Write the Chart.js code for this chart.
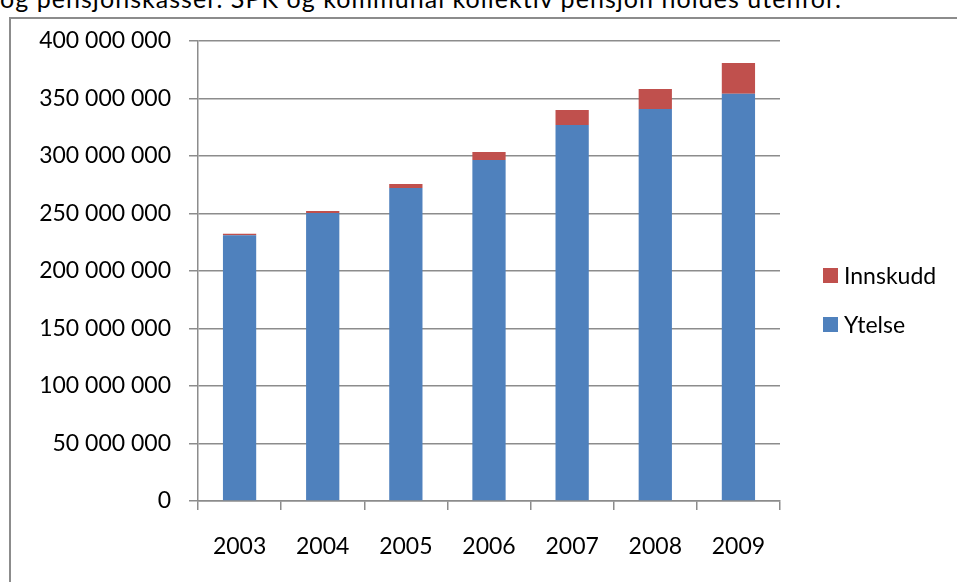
<!DOCTYPE html>
<html>
<head>
<meta charset="utf-8">
<script src="https://cdn.jsdelivr.net/npm/chart.js@4.4.1/dist/chart.umd.min.js"></script>
<style>
  html, body { margin: 0; padding: 0; background: #fff; width: 957px; height: 582px; overflow: hidden; }
  #lead { position: absolute; left: 0; top: -17px; font: 25px Lato, sans-serif; letter-spacing: 1.05px; white-space: nowrap; color: #000; }
  #frame { position: absolute; left: 9px; top: 17px; width: 1200px; height: 800px; border: 2px solid #8c8c8c; box-sizing: border-box; }
  #wrap { position: absolute; left: 0; top: 0; width: 957px; height: 582px; }
</style>
</head>
<body>
<div id="lead">og pensjonskasser. SPK og kommunal kollektiv pensjon holdes utenfor.</div>
<div id="frame"></div>
<div id="wrap"><canvas id="c" width="957" height="582"></canvas></div>
<script>
// Premium volume per year, split by scheme type (NOK)
const years = ['2003', '2004', '2005', '2006', '2007', '2008', '2009'];
const ytelse = [231.0e6, 250.4e6, 272.2e6, 296.5e6, 327.0e6, 340.9e6, 354.2e6];
const innskudd = [1.3e6, 1.8e6, 3.5e6, 7.0e6, 13.0e6, 17.4e6, 26.7e6];
const yTicks = [0, 50e6, 100e6, 150e6, 200e6, 250e6, 300e6, 350e6, 400e6];

const FONT = { family: 'Lato, sans-serif', size: 23 };
const AXIS = '#8c8c8c';

// "400 000 000" style grouping
const fmt = v => String(Math.round(v)).replace(/\B(?=(\d{3})+(?!\d))/g, ' ');

// Vertical legend to the right of the plot, top entry = top stack segment
const sideLegend = {
  id: 'sideLegend',
  afterDraw(chart) {
    const ctx = chart.ctx;
    const ds = chart.data.datasets;
    const x = 823, y0 = 275.5, step = 49, box = 15;
    ctx.save();
    ctx.font = `${FONT.size}px ${FONT.family}`;
    ctx.textBaseline = 'middle';
    ctx.textAlign = 'left';
    for (let i = ds.length - 1, k = 0; i >= 0; i--, k++) {
      const y = y0 + k * step;
      ctx.fillStyle = ds[i].backgroundColor;
      ctx.fillRect(x, y - box / 2, box, box);
      ctx.fillStyle = '#000';
      ctx.fillText(ds[i].label, x + box + 6, y + 1);
    }
    ctx.restore();
  }
};

new Chart(document.getElementById('c'), {
  type: 'bar',
  data: {
    labels: years,
    datasets: [
      { label: 'Ytelse', data: ytelse, backgroundColor: '#4F81BD' },
      { label: 'Innskudd', data: innskudd, backgroundColor: '#C0504D' }
    ]
  },
  options: {
    responsive: false,
    animation: false,
    events: [],
    barPercentage: 0.4,
    categoryPercentage: 1,
    layout: { padding: { left: 20, top: 41, right: 177, bottom: 21 } },
    plugins: { legend: { display: false }, tooltip: { enabled: false } },
    scales: {
      x: {
        stacked: true,
        offset: true,
        grid: { offset: true, drawOnChartArea: false, drawTicks: true, tickLength: 9, color: AXIS, lineWidth: 1.5 },
        border: { color: AXIS, width: 1.5 },
        ticks: { font: FONT, color: '#000', padding: 23, maxRotation: 0 },
        afterFit(s) { s.height = 60; }
      },
      y: {
        stacked: true,
        min: 0,
        max: 400e6,
        afterBuildTicks(s) { s.ticks = yTicks.map(v => ({ value: v })); },
        grid: { tickLength: 9, color: AXIS, lineWidth: 1.5 },
        border: { color: AXIS, width: 1.5 },
        ticks: { font: FONT, color: '#000', padding: 18, callback: v => fmt(v) },
        afterFit(s) { s.width = 178; }
      }
    }
  },
  plugins: [sideLegend]
});
</script>
</body>
</html>
